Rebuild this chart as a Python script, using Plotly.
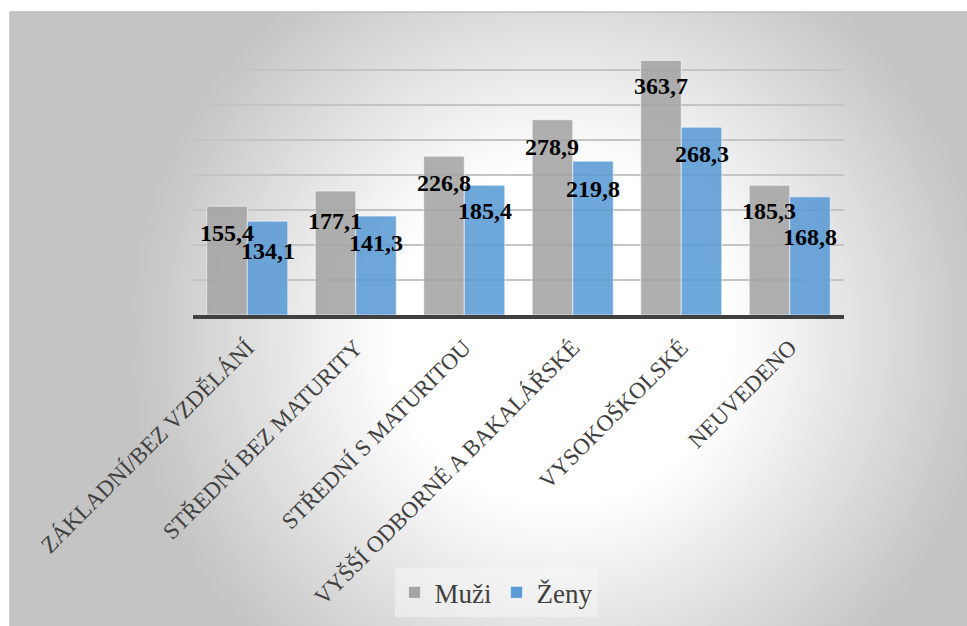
import numpy as np
import plotly.graph_objects as go

# Data
categories = [
    "ZÁKLADNÍ/BEZ VZDĚLÁNÍ",
    "STŘEDNÍ BEZ MATURITY",
    "STŘEDNÍ S MATURITOU",
    "VYŠŠÍ ODBORNÉ A BAKALÁŘSKÉ",
    "VYSOKOŠKOLSKÉ",
    "NEUVEDENO",
]
muzi = [155.4, 177.1, 226.8, 278.9, 363.7, 185.3]
zeny = [134.1, 141.3, 185.4, 219.8, 268.3, 168.8]
series_names = ["Muži", "Ženy"]

# Style
W, H = 967, 626
COL_MUZI = "#A5A5A5"
COL_ZENY = "#5B9BD5"
SERIF = "Liberation Serif"
label_drop_muzi = [27, 30, 27, 27, 26, 26]   # px below the bar top
label_drop_zeny = [30, 27, 26, 28, 27, 40]
group_shift = 20.3                           # half bar width, px

# Plot-area placement in pixels
PX_LEFT, PX_RIGHT = 193, 844
PX_TOP, PX_BOTTOM = 35, 315
FRAME_LEFT, FRAME_TOP = 10, 12


def fmt(v):
    return f"{v:.1f}".replace(".", ",")


fig = go.Figure()

# Radial background shading of the chart frame
bx = np.linspace(FRAME_LEFT, W, 70)
by = np.linspace(FRAME_TOP, H, 46)
gx, gy = np.meshgrid(bx, by)
dist = np.hypot(gx - 560, gy - 335)
shade = 1 - np.clip((dist - 170) / (430 - 170), 0, 1)
fig.add_trace(go.Heatmap(
    x=bx, y=by, z=shade, zmin=0, zmax=1, zsmooth="best",
    colorscale=[[0, "rgb(196,196,196)"], [1, "rgb(255,255,255)"]],
    showscale=False, hoverinfo="skip", xaxis="x", yaxis="y",
))

# Bars
fig.add_trace(go.Bar(
    name=series_names[0], x=categories, y=muzi, xaxis="x2", yaxis="y2",
    marker=dict(color=COL_MUZI, opacity=0.88,
                line=dict(color="rgba(255,255,255,0.6)", width=1)),
))
fig.add_trace(go.Bar(
    name=series_names[1], x=categories, y=zeny, xaxis="x2", yaxis="y2",
    marker=dict(color=COL_ZENY, opacity=0.88,
                line=dict(color="rgba(255,255,255,0.6)", width=1)),
))

# Value labels
annotations = []
for vals, drops, shift in ((muzi, label_drop_muzi, -group_shift),
                           (zeny, label_drop_zeny, group_shift)):
    for cat, v, d in zip(categories, vals, drops):
        annotations.append(dict(
            x=cat, y=v, xref="x2", yref="y2", text=f"<b>{fmt(v)}</b>",
            showarrow=False,
            xshift=shift, yshift=-d, xanchor="center", yanchor="middle",
            font=dict(family=SERIF, size=24, color="black"),
        ))

fig.update_layout(
    width=W, height=H,
    margin=dict(l=0, r=0, t=0, b=0, autoexpand=False),
    paper_bgcolor="white",
    plot_bgcolor="rgba(0,0,0,0)",
    font=dict(family=SERIF),
    barmode="group",
    bargap=0.253,
    bargroupgap=0.0,
    annotations=annotations,
    showlegend=True,
    legend=dict(
        orientation="h", x=0.408, xanchor="left", y=0.053, yanchor="middle",
        font=dict(family=SERIF, size=27, color="#404040"),
        bgcolor="rgba(246,246,246,0.55)", itemwidth=30,
    ),
    xaxis=dict(domain=[FRAME_LEFT / W, 1], range=[FRAME_LEFT, W],
               visible=False, fixedrange=True, automargin=False),
    yaxis=dict(domain=[0, 1 - FRAME_TOP / H], range=[H, FRAME_TOP],
               visible=False, fixedrange=True, automargin=False),
    xaxis2=dict(
        domain=[PX_LEFT / W, PX_RIGHT / W], anchor="y2", automargin=False,
        showline=True, linecolor="#404040", linewidth=4,
        showgrid=False, ticks="", tickangle=-45,
        tickfont=dict(family=SERIF, size=23, color="#404040"),
        ticklabelstandoff=6,
    ),
    yaxis2=dict(
        domain=[1 - PX_BOTTOM / H, 1 - PX_TOP / H], anchor="x2",
        automargin=False,
        range=[0, 400], dtick=50, showticklabels=False,
        showgrid=True, gridcolor="#c4c4c4", gridwidth=1.5,
        zeroline=False, showline=False,
    ),
    shapes=[dict(
        type="rect", xref="paper", yref="paper",
        x0=FRAME_LEFT / W, x1=1.2, y0=-0.2, y1=1 - FRAME_TOP / H,
        line=dict(color="#bdbdbd", width=1.5), fillcolor="rgba(0,0,0,0)",
        layer="above",
    )],
)

fig.write_html("out.html")
